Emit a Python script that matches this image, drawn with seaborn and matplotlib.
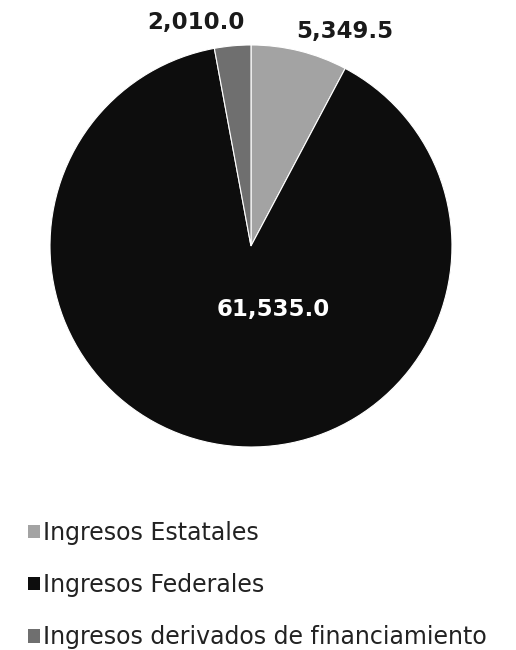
import matplotlib
matplotlib.use("Agg")
import matplotlib.pyplot as plt
import seaborn as sns
from matplotlib.patches import Patch

categories = ["Ingresos Estatales", "Ingresos Federales", "Ingresos derivados de financiamiento"]
values = [5349.5, 61535.0, 2010.0]
value_labels = ["5,349.5", "61,535.0", "2,010.0"]
colors = ["#a3a3a3", "#0d0d0d", "#6f6f6f"]

sns.set_theme(style="white")
plt.rcParams["font.family"] = ["DejaVu Sans"]

fig = plt.figure(figsize=(5.16, 6.5), dpi=100)
ax = fig.add_axes([0.0969, 0.3123, 0.779, 0.6185])

wedges, _ = ax.pie(values, colors=colors, startangle=90, counterclock=False,
                   radius=1.0, wedgeprops=dict(edgecolor="white", linewidth=0.8))
ax.set_aspect("auto")
ax.set_xlim(-1, 1)
ax.set_ylim(-1, 1)

label_pos = [(0.468, 1.065), (0.109, -0.318), (-0.274, 1.114)]
label_col = ["#1a1a1a", "white", "#1a1a1a"]
for (x, y), txt, c in zip(label_pos, value_labels, label_col):
    ax.text(x, y, txt, ha="center", va="center", fontsize=16.5, fontweight="bold",
            color=c, clip_on=False)

handles = [Patch(facecolor=c, edgecolor="none") for c in colors]
leg = fig.legend(handles, categories, loc="upper left", bbox_to_anchor=(0.054, 0.199),
                 frameon=False, prop=dict(size=17),
                 handlelength=0.5, handleheight=0.5,
                 handletextpad=0.15, labelspacing=1.2, borderaxespad=0, borderpad=0)
for t in leg.get_texts():
    t.set_color("#222222")

fig.savefig("out.png", dpi=100)
